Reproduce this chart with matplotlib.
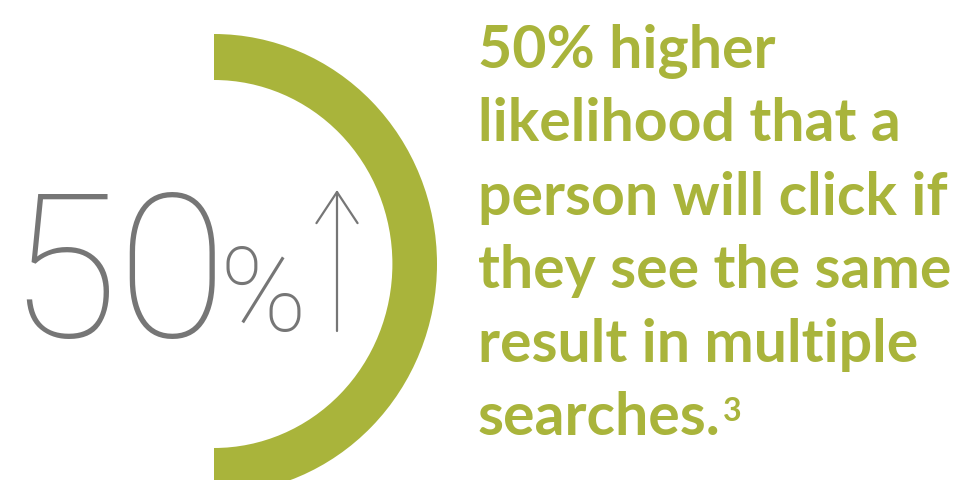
import matplotlib.pyplot as plt
from matplotlib.patches import FancyArrowPatch

# headline figure and caption
share = 50
rest = 100 - share
big_number = "50"
caption_lines = [
    "50% higher",
    "likelihood that a",
    "person will click if",
    "they see the same",
    "result in multiple",
    "searches.",
]
footnote = "3"

green = "#a9b43b"
grey = "#767676"

W, H = 954, 481
fig = plt.figure(figsize=(W / 100, H / 100), dpi=100)
fig.patch.set_facecolor("white")

def fx(px):
    return px / W

def fy(py):
    return 1 - py / H

# half ring: the share wedge goes clockwise from the top
ring = fig.add_axes([fx(-9), fy(495), fx(446), 460 / H])
ring.pie([share, rest], startangle=90, counterclock=False,
         colors=[green, "none"], radius=1,
         wedgeprops=dict(width=0.2, linewidth=0))
ring.set_aspect("auto")
ring.set_xlim(-1, 1)
ring.set_ylim(-1, 1)
ring.axis("off")

# big grey number, percent sign and up arrow
fig.text(fx(8), fy(337), big_number, fontsize=144, family="Roboto",
         weight=100, color=grey, va="baseline", ha="left")
fig.text(fx(220), fy(331), "%", fontsize=84, family="Roboto",
         weight=100, color=grey, va="baseline", ha="left")
fig.patches.append(FancyArrowPatch(
    (fx(337), fy(332)), (fx(337), fy(191)), transform=fig.transFigure,
    arrowstyle="->,head_length=5.6,head_width=3.7", color=grey, lw=1.6,
    mutation_scale=4, shrinkA=0, shrinkB=0))

# caption block
x0 = 478
base0 = 68
step = 73.4
for i, line in enumerate(caption_lines):
    t = fig.text(fx(x0), fy(base0 + i * step), line, fontsize=42.5,
                 family="Lato", weight="bold", color=green,
                 va="baseline", ha="left")

fig.canvas.draw()
bb = t.get_window_extent()
fig.text((bb.x1 + 2) / W, fy(base0 + 5 * step - 14), footnote, fontsize=23,
         family="Lato", weight="bold", color=green, va="baseline", ha="left")

fig.savefig("out.png", dpi=100, facecolor="white")
